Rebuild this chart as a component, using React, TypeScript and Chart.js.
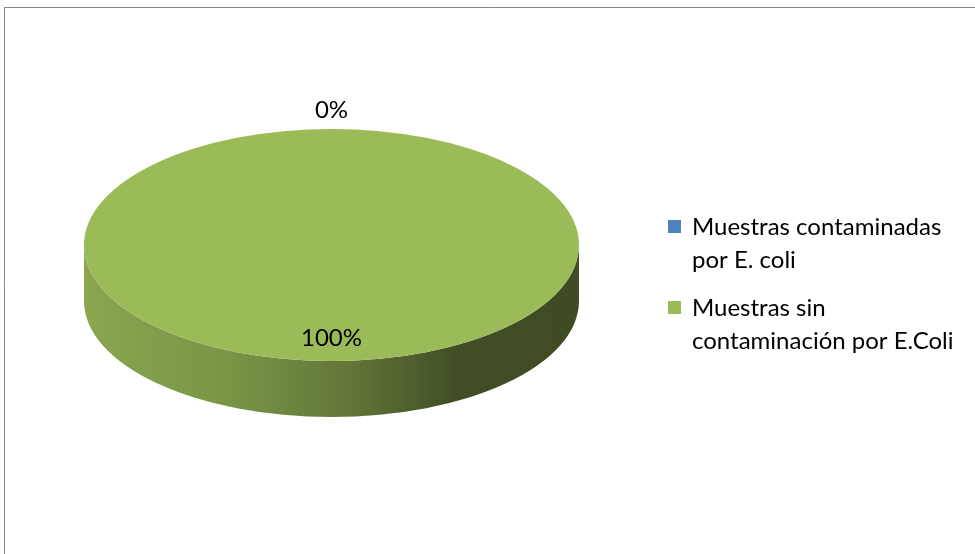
import React, { useEffect, useRef } from "react";
import { Chart, registerables } from "chart.js";

Chart.register(...registerables);

// ---- data ----
const categories = [
  "Muestras contaminadas por E. coli",
  "Muestras sin contaminación por E.Coli",
];
const legendLines = [
  ["Muestras contaminadas", "por E. coli"],
  ["Muestras sin", "contaminación por E.Coli"],
];
const values = [0, 100];
const colors = ["#4f81bd", "#9bbb59"];

// ---- layout constants ----
const FONT = "Lato, 'Open Sans', sans-serif";
const ELLIPSE_CY = 245;
const ELLIPSE_RY = 116;
const DEPTH = 56;

function hexToRgb(hex: string) {
  const h = hex.replace("#", "");
  return [0, 2, 4].map((i) => parseInt(h.slice(i, i + 2), 16));
}
function shade(hex: string, f: number) {
  const [r, g, b] = hexToRgb(hex);
  return `rgb(${Math.round(r * f)},${Math.round(g * f)},${Math.round(b * f)})`;
}

const pie3d = {
  id: "pie3d",
  beforeDraw(chart: any) {
    const ctx = chart.ctx;
    ctx.save();
    ctx.strokeStyle = "#868686";
    ctx.lineWidth = 1;
    ctx.beginPath();
    ctx.moveTo(4.5, 3000);
    ctx.lineTo(4.5, 7.5);
    ctx.lineTo(3000, 7.5);
    ctx.stroke();
    ctx.restore();
  },
  beforeDatasetsDraw(chart: any) {
    const ctx = chart.ctx;
    const meta = chart.getDatasetMeta(0);
    const arcs = meta.data;
    if (!arcs.length) return;
    const cx = arcs[0].x;
    const cy = arcs[0].y;
    const r = arcs[0].outerRadius;
    const k = ELLIPSE_RY / r;
    const ry = r * k;
    // side walls
    arcs.forEach((arc: any, i: number) => {
      const s = arc.startAngle;
      const e = arc.endAngle;
      if (e - s <= 0) return;
      const base = colors[i];
      const grad = ctx.createLinearGradient(cx - r, 0, cx + r, 0);
      grad.addColorStop(0, shade(base, 0.89));
      grad.addColorStop(0.3, shade(base, 0.79));
      grad.addColorStop(0.55, shade(base, 0.62));
      grad.addColorStop(0.76, shade(base, 0.41));
      grad.addColorStop(1, shade(base, 0.4));
      for (const off of [-2 * Math.PI, 0, 2 * Math.PI]) {
        const a = Math.max(s, off);
        const b = Math.min(e, Math.PI + off);
        if (b <= a) continue;
        ctx.beginPath();
        ctx.ellipse(cx, ELLIPSE_CY, r, ry, 0, a, b);
        ctx.ellipse(cx, ELLIPSE_CY + DEPTH, r, ry, 0, b, a, true);
        ctx.closePath();
        ctx.fillStyle = grad;
        ctx.fill();
      }
    });
    ctx.save();
    ctx.translate(cx, ELLIPSE_CY);
    ctx.scale(1, k);
    ctx.translate(-cx, -cy);
  },
  afterDatasetsDraw(chart: any) {
    const ctx = chart.ctx;
    ctx.restore();
    const meta = chart.getDatasetMeta(0);
    const arcs = meta.data;
    if (!arcs.length) return;
    const cx = arcs[0].x;
    const r = arcs[0].outerRadius;
    const ry = ELLIPSE_RY;
    const data = chart.data.datasets[0].data as number[];
    const total = data.reduce((a, b) => a + b, 0);
    ctx.save();
    ctx.font = `24px ${FONT}`;
    ctx.fillStyle = "#000";
    ctx.textAlign = "center";
    ctx.textBaseline = "middle";
    arcs.forEach((arc: any, i: number) => {
      const pct = Math.round((data[i] / total) * 100);
      const m = (arc.startAngle + arc.endAngle) / 2;
      let x: number, y: number;
      if (pct > 0) {
        x = cx + 0.8 * r * Math.cos(m);
        y = ELLIPSE_CY + 0.8 * ry * Math.sin(m);
      } else {
        x = cx + r * Math.cos(m) + 19 * Math.cos(m);
        y = ELLIPSE_CY + ry * Math.sin(m) + 19 * Math.sin(m);
      }
      ctx.fillText(`${pct}%`, x, y);
    });
    // legend
    const lx = 668;
    let ly = 227;
    const lineH = 33;
    const gap = 15;
    legendLines.forEach((lines, i) => {
      ctx.fillStyle = colors[i];
      ctx.fillRect(lx, ly - 7, 13, 13);
      ctx.fillStyle = "#000";
      ctx.textAlign = "left";
      lines.forEach((t, j) => {
        ctx.fillText(t, lx + 24, ly + j * lineH);
      });
      ly += lines.length * lineH + gap;
    });
    ctx.restore();
  },
};

export default function App() {
  const ref = useRef<HTMLCanvasElement>(null);
  useEffect(() => {
    if (!ref.current) return;
    const chart = new Chart(ref.current, {
      type: "pie",
      data: {
        labels: categories,
        datasets: [
          {
            data: values,
            backgroundColor: colors,
            borderWidth: 0,
          },
        ],
      },
      options: {
        animation: false,
        responsive: true,
        maintainAspectRatio: false,
        layout: { padding: { left: 84, right: 396, top: 0, bottom: 0 } },
        plugins: {
          legend: { display: false },
          tooltip: { enabled: false },
        },
      },
      plugins: [pie3d],
    });
    return () => chart.destroy();
  }, []);
  return (
    <div
      style={{
        position: "fixed",
        left: 0,
        top: 0,
        width: 975,
        height: 554,
        background: "#fff",
      }}
    >
      <canvas ref={ref} />
    </div>
  );
}
